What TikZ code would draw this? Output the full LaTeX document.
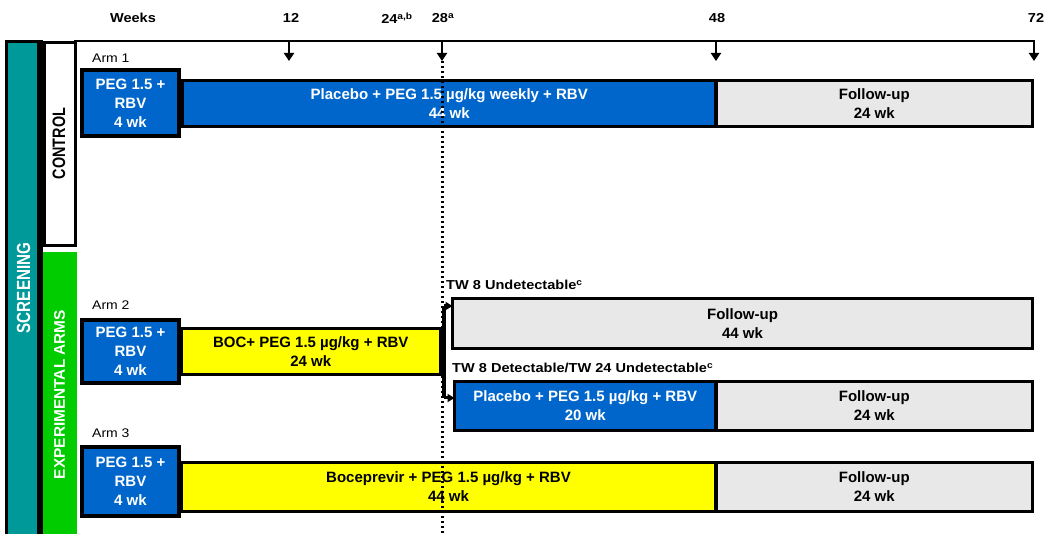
\documentclass[tikz,border=0pt]{standalone}
\usepackage{fontspec}
\setmainfont{Liberation Sans}
\newfontfamily\widefont{Liberation Sans}[FakeStretch=1.12]
\newfontfamily\narrowfont{Liberation Sans}[FakeStretch=0.8]
\usetikzlibrary{arrows.meta}
\definecolor{armblue}{HTML}{0066CC}
\definecolor{armyellow}{HTML}{FFFF00}
\definecolor{fugray}{HTML}{E8E8E8}
\definecolor{scrteal}{HTML}{009999}
\definecolor{expgreen}{HTML}{00CC00}
\begin{document}
\begin{tikzpicture}[x=1pt,y=-1pt,
  box/.style={draw=black, line width=3.5pt, inner sep=0pt, outer sep=0pt, align=center,
    font=\fontsize{15}{19}\selectfont\bfseries},
  pegbox/.style={box, line width=4.5pt, fill=armblue, text=white},
  bluebar/.style={box, fill=armblue, text=white},
  yellowbar/.style={box, fill=armyellow},
  fubox/.style={box, fill=fugray},
  weeklab/.style={font=\widefont\fontsize{13}{14}\selectfont\bfseries},
  armlab/.style={font=\widefont\fontsize{12.5}{14}\selectfont, anchor=west, inner sep=0pt},
  twlab/.style={font=\widefont\fontsize{13}{14}\selectfont\bfseries, anchor=west, inner sep=0pt},
  vlab/.style={rotate=90, inner sep=0pt, font=\narrowfont\bfseries},
  tick/.style={line width=2.5pt, -{Triangle[width=10pt,length=8pt]}},
  tip/.style={line width=3pt, -{Triangle[width=8pt,length=7pt]}},
  dotline/.style={line width=3pt, dash pattern=on 2.5pt off 2.5pt},
]
\useasboundingbox (0,0) rectangle (1045,534);
\fill[white] (0,0) rectangle (1045,534);

% left column
\node[fill=black, minimum width=38pt, minimum height=500pt, inner sep=0pt, anchor=north west] (scrframe) at (5,40) {};
\node[fill=scrteal, minimum width=29pt, minimum height=494pt, inner sep=0pt, anchor=north west] (scr) at (8,43) {};
\node[vlab, text=white, font=\narrowfont\bfseries\fontsize{19}{20}\selectfont] (scrlab) at (23.5,288) {SCREENING};
\node[draw=black, line width=2.5pt, fill=white, minimum width=31pt, minimum height=203pt, inner sep=0pt, anchor=north west] (ctrl) at (43,41.25) {};
\node[vlab, font=\narrowfont\bfseries\fontsize{18}{20}\selectfont] (ctrllab) at (59,143.5) {CONTROL};
\node[fill=expgreen, minimum width=34pt, minimum height=290pt, inner sep=0pt, anchor=north west] (exp) at (42.5,252) {};
\node[vlab, text=white, font=\bfseries\fontsize{15.4}{16}\selectfont] (explab) at (59.5,394.5) {EXPERIMENTAL ARMS};

% timeline
\coordinate (tl0) at (74,41);
\coordinate (tl1) at (1035,41);
\draw[line width=2.5pt] (tl0) -- (tl1);
\coordinate (w12) at (289,41);  \coordinate (w12e) at (289,61);
\coordinate (w28) at (442,41);  \coordinate (w28e) at (442,61);
\coordinate (w48) at (716,41);  \coordinate (w48e) at (716,61);
\coordinate (w72) at (1034,41); \coordinate (w72e) at (1034,61);
\draw[tick] (w12) -- (w12e);
\draw[tick] (w28) -- (w28e);
\draw[tick] (w48) -- (w48e);
\draw[tick] (w72) -- (w72e);

\node[weeklab] (lweeks) at (133,18) {Weeks};
\node[weeklab] (l12) at (291,18) {12};
\node[weeklab] (l24) at (397,18) {24\textsuperscript{a,b}};
\node[weeklab] (l28) at (443,18) {28\textsuperscript{a}};
\node[weeklab] (l48) at (717,18) {48};
\node[weeklab] (l72) at (1036,18) {72};

% Arm 1
\node[armlab] (arm1) at (92,58) {Arm 1};
\node[bluebar, minimum width=533.5pt, minimum height=46pt] (bar1) at (449.25,103.5) {Placebo + PEG 1.5 µg/kg weekly + RBV\\44 wk};
\node[fubox, minimum width=316.5pt, minimum height=46pt] (fu1) at (874.25,103.5) {Follow-up\\24 wk};
\node[pegbox, minimum width=97pt, minimum height=66pt] (peg1) at (130.5,103) {PEG 1.5 +\\RBV\\4 wk};

% Arm 2
\node[armlab] (arm2) at (92,305) {Arm 2};
\node[yellowbar, minimum width=259.5pt, minimum height=46pt] (bar2) at (310.75,351.5) {BOC+ PEG 1.5 µg/kg + RBV\\24 wk};
\node[pegbox, minimum width=97pt, minimum height=63pt] (peg2) at (130.5,351.5) {PEG 1.5 +\\RBV\\4 wk};
\node[twlab] (tw1) at (446,285) {TW 8 Undetectable\textsuperscript{c}};
\node[fubox, minimum width=580pt, minimum height=50pt] (fuA) at (742.5,323.5) {Follow-up\\44 wk};
\node[twlab] (tw2) at (452,368) {TW 8 Detectable/TW 24 Undetectable\textsuperscript{c}};
\node[bluebar, minimum width=261.5pt, minimum height=49pt] (bl2) at (585.25,406) {Placebo + PEG 1.5 µg/kg + RBV\\20 wk};
\node[fubox, minimum width=316.5pt, minimum height=49pt] (fu2) at (874.25,406) {Follow-up\\24 wk};

% bracket
\coordinate (brT) at (444,306);
\coordinate (brB) at (444,398);
\draw[line width=3.5pt] (brT) -- (brB);
\draw[tip] (brT) -- (brT -| fuA.west);
\draw[tip] (brB) -- (brB -| bl2.west);

% Arm 3
\node[armlab] (arm3) at (92,433) {Arm 3};
\node[yellowbar, minimum width=535pt, minimum height=49pt] (bar3) at (448.5,487) {Boceprevir + PEG 1.5 µg/kg + RBV\\44 wk};
\node[fubox, minimum width=316.5pt, minimum height=49pt] (fu3) at (874.25,487) {Follow-up\\24 wk};
\node[pegbox, minimum width=97pt, minimum height=69pt] (peg3) at (130.5,481.5) {PEG 1.5 +\\RBV\\4 wk};

% dotted line at week 28
\coordinate (dotEnd) at (442,534);
\draw[dotline] (w28e) -- (dotEnd);
\end{tikzpicture}
\end{document}
